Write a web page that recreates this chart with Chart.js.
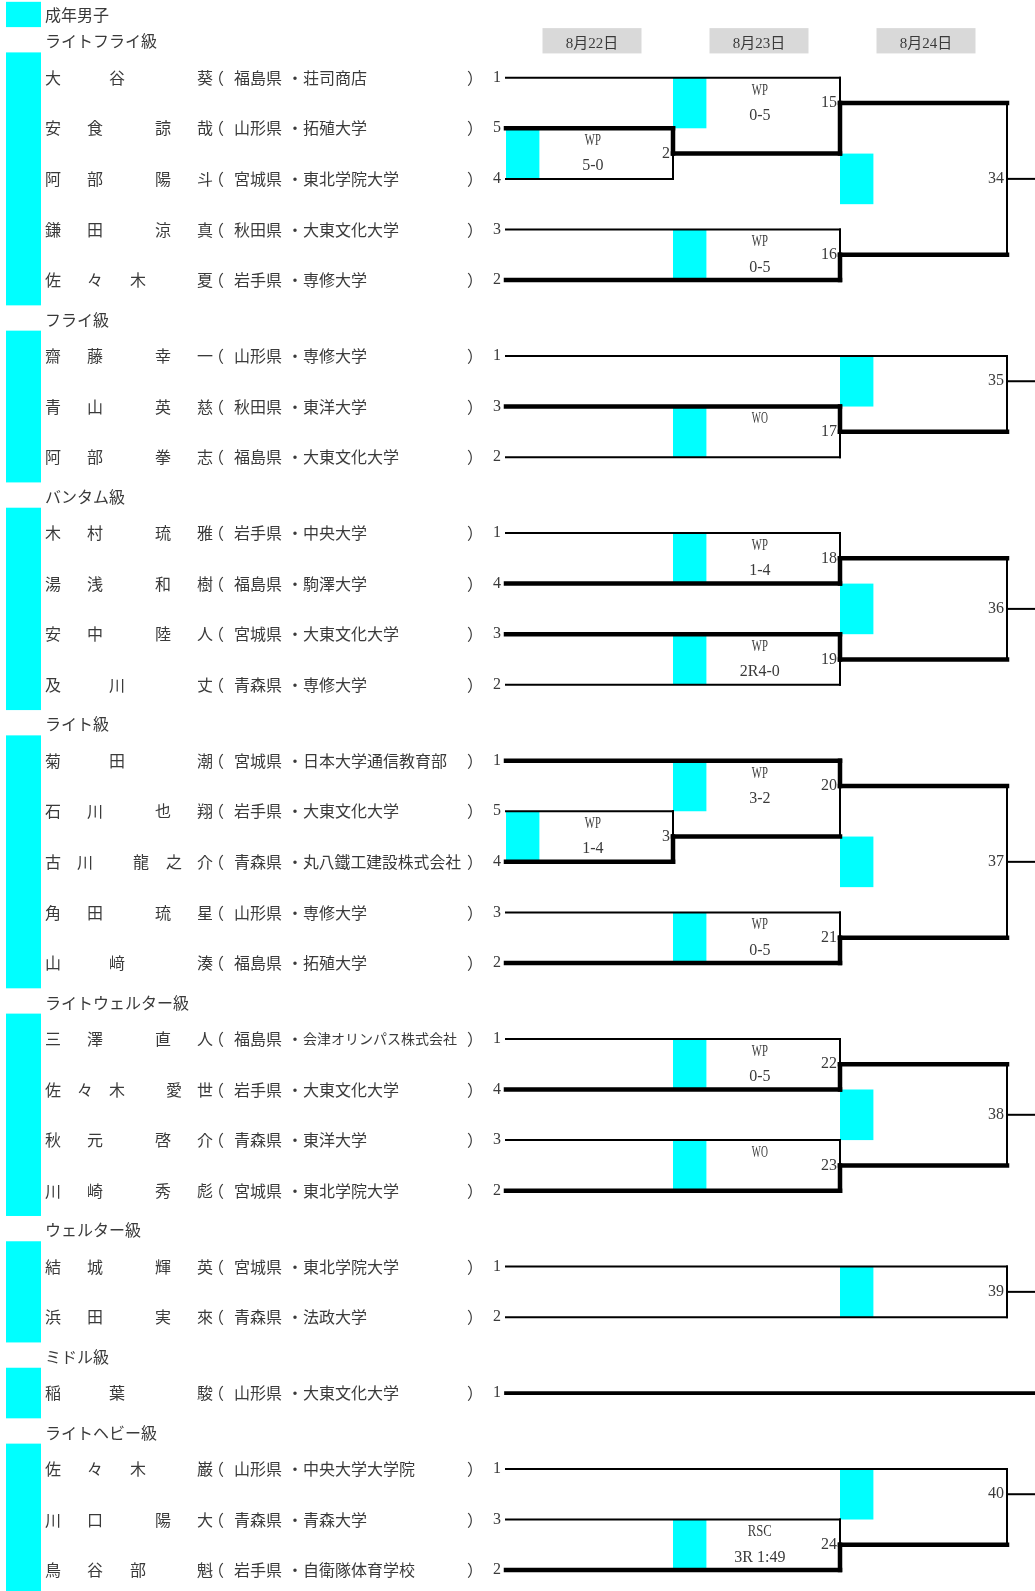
<!DOCTYPE html>
<html lang="ja">
<head>
<meta charset="utf-8">
<title>成年男子 トーナメント</title>
<script src="https://cdn.jsdelivr.net/npm/chart.js@4.4.1/dist/chart.umd.min.js"></script>
<style>
  html, body { margin: 0; padding: 0; background: #fff; }
  #wrap { position: relative; width: 1035px; height: 1591px; }
</style>
</head>
<body>
<div id="wrap"><canvas id="cuadro"></canvas></div>
<script>
// ---- Datos del cuadro ----
const categoria = '成年男子';
const clases = ['ライトフライ級', 'フライ級', 'バンタム級', 'ライト級', 'ライトウェルター級', 'ウェルター級', 'ミドル級', 'ライトヘビー級'];
const tamClases = [5, 3, 4, 5, 4, 2, 1, 3];
const fechas = ['8月22日', '8月23日', '8月24日'];

// Boxeadores en el orden en que aparecen (de arriba abajo)
const apellidos = ['大谷', '安食', '阿部', '鎌田', '佐々木',
    '齋藤', '青山', '阿部',
    '木村', '湯浅', '安中', '及川',
    '菊田', '石川', '古川', '角田', '山﨑',
    '三澤', '佐々木', '秋元', '川崎',
    '結城', '浜田',
    '稲葉',
    '佐々木', '川口', '鳥谷部'];
const nombres = ['葵', '諒哉', '陽斗', '涼真', '夏',
    '幸一', '英慈', '拳志',
    '琉雅', '和樹', '陸人', '丈',
    '潮', '也翔', '龍之介', '琉星', '湊',
    '直人', '愛世', '啓介', '秀彪',
    '輝英', '実來',
    '駿',
    '巌', '陽大', '魁'];
const prefecturas = ['福島県', '山形県', '宮城県', '秋田県', '岩手県',
    '山形県', '秋田県', '福島県',
    '岩手県', '福島県', '宮城県', '青森県',
    '宮城県', '岩手県', '青森県', '山形県', '福島県',
    '福島県', '岩手県', '青森県', '宮城県',
    '宮城県', '青森県',
    '山形県',
    '山形県', '青森県', '岩手県'];
const equipos = ['荘司商店', '拓殖大学', '東北学院大学', '大東文化大学', '専修大学',
    '専修大学', '東洋大学', '大東文化大学',
    '中央大学', '駒澤大学', '大東文化大学', '専修大学',
    '日本大学通信教育部', '大東文化大学', '丸八鐵工建設株式会社', '専修大学', '拓殖大学',
    '会津オリンパス株式会社', '大東文化大学', '東洋大学', '東北学院大学',
    '東北学院大学', '法政大学',
    '大東文化大学',
    '中央大学大学院', '青森大学', '自衛隊体育学校'];
const sorteo = [1, 5, 4, 3, 2, 1, 3, 2, 1, 4, 3, 2, 1, 5, 4, 3, 2, 1, 4, 3, 2, 1, 2, 1, 1, 3, 2];

// Combates: 'jN' = boxeador N, 'cN' = ganador del combate N
const combateId = [2, 15, 16, 34, 17, 35, 18, 19, 36, 3, 20, 21, 37, 22, 23, 38, 39, 24, 40];
const combateRonda = [1, 2, 2, 3, 2, 3, 2, 2, 3, 1, 2, 2, 3, 2, 2, 3, 3, 2, 3];
const combateArriba = ['j1', 'j0', 'j3', 'c15', 'j6', 'j5', 'j8', 'j10', 'c18', 'j13', 'j12', 'j15', 'c20', 'j17', 'j19', 'c22', 'j21', 'j25', 'j24'];
const combateAbajo = ['j2', 'c2', 'j4', 'c16', 'j7', 'c17', 'j9', 'j11', 'c19', 'j14', 'c3', 'j16', 'c21', 'j18', 'j20', 'c23', 'j22', 'j26', 'c24'];
const combateGanador = ['arriba', 'abajo', 'abajo', null, 'arriba', null, 'abajo', 'arriba', null, 'abajo', 'arriba', 'abajo', null, 'abajo', 'abajo', null, null, 'abajo', null];
const resultado1 = ['WP', 'WP', 'WP', '', 'WO', '', 'WP', 'WP', '', 'WP', 'WP', 'WP', '', 'WP', 'WO', '', '', 'RSC', ''];
const resultado2 = ['5-0', '0-5', '0-5', '', '', '', '1-4', '2R4-0', '', '1-4', '3-2', '0-5', '', '0-5', '', '', '', '3R 1:49', ''];

// ---- Maquetación ----
const ANCHO = 1035, ALTO = 1591;
const X0_PX = 506, COL_PX = 167;      // inicio del cuadro y ancho de cada ronda
const Y0_PX = 77.7, FILA_PX = 50.59;  // primera fila y separación entre filas
const X_MIN = -X0_PX / COL_PX, X_MAX = (ANCHO - X0_PX) / COL_PX;
const Y_MIN = -Y0_PX / FILA_PX, Y_MAX = (ALTO - Y0_PX) / FILA_PX;
const CIAN = '#00ffff', GRIS = '#d9d9d9', TINTA = '#3a3a3a';
const FINA = 2, GRUESA = 4.5;
const F_JP = '16px "Noto Sans CJK JP"';
const F_NUM = '16px "Liberation Serif", "Noto Sans CJK JP"';
// posiciones de los caracteres del nombre (alineación distribuida)
const POS_NOMBRE = {
    '2-1': [45, 109, 197],
    '2-2': [45, 87, 155, 197],
    '3-1': [45, 87, 130, 197],
    '2-3': [45, 77, 133, 166, 197],
    '3-2': [45, 77, 109, 166, 197]
};

// Fila de cada boxeador y de cada clase
const filaJugador = [];
const filasClase = [];
let filaActual = 0;
tamClases.forEach(n => {
    filasClase.push([filaActual, filaActual + n - 1]);
    for (let i = 0; i < n; i++) filaJugador.push(filaActual + i);
    filaActual += n + 0.5;
});

const indiceCombate = {};
combateId.forEach((id, i) => { indiceCombate['c' + id] = i; });

// A qué combate va cada boxeador / ganador
const siguiente = {};
combateId.forEach((id, i) => {
    siguiente[combateArriba[i]] = i;
    siguiente[combateAbajo[i]] = i;
});

function filaSalida(i) {
    const mitad = (filaDe(combateArriba[i]) + filaDe(combateAbajo[i])) / 2;
    return Math.floor(mitad * 2) / 2;
}
function filaDe(ref) {
    if (ref[0] === 'j') return filaJugador[+ref.slice(1)];
    return filaSalida(indiceCombate[ref]);
}

// ---- Segmentos del cuadro ----
const segmentos = [];
function tramo(x1, y1, x2, y2, grosor) {
    segmentos.push({ pts: [{ x: x1, y: y1 }, { x: x2, y: y2 }], grosor });
}

filaJugador.forEach((fila, j) => {
    const m = siguiente['j' + j];
    if (m === undefined) {
        tramo(0, fila, X_MAX, fila, GRUESA - 0.8);
        return;
    }
    const lado = combateArriba[m] === 'j' + j ? 'arriba' : 'abajo';
    tramo(0, fila, combateRonda[m], fila, combateGanador[m] === lado ? GRUESA : FINA);
});

combateId.forEach((id, i) => {
    const x = combateRonda[i];
    const t = filaDe(combateArriba[i]);
    const b = filaDe(combateAbajo[i]);
    const s = filaSalida(i);
    tramo(x, t, x, s, combateGanador[i] === 'arriba' ? GRUESA : FINA);
    tramo(x, s, x, b, combateGanador[i] === 'abajo' ? GRUESA : FINA);
    const n = siguiente['c' + id];
    if (n !== undefined) {
        tramo(x, s, combateRonda[n], s, combateGanador[i] ? GRUESA : FINA);
    } else {
        tramo(x, s, X_MAX, s, FINA);
    }
});

const datasets = segmentos.map(sg => ({
    data: sg.pts,
    showLine: true,
    borderColor: '#000',
    borderWidth: sg.grosor,
    borderCapStyle: 'square',
    pointRadius: 0,
    clip: false
}));

// ---- Fondo: celdas cian y cabeceras de fecha ----
const pluginFondo = {
    id: 'fondo',
    beforeDatasetsDraw(chart) {
        const { ctx, scales: { x, y } } = chart;
        const px = v => x.getPixelForValue(v);
        const py = v => y.getPixelForValue(v);
        ctx.save();
        ctx.fillStyle = CIAN;
        // barra de la categoría y de cada clase
        ctx.fillRect(6, py(-1.5), 35, py(-1.0) - py(-1.5));
        filasClase.forEach(([a, b]) => {
            ctx.fillRect(6, py(a - 0.5), 35, py(b + 0.5) - py(a - 0.5));
        });
        // celdas cian de cada combate
        combateId.forEach((id, i) => {
            const r = combateRonda[i];
            let y1, y2;
            if (r < 3) {
                y1 = filaDe(combateArriba[i]);
                y2 = y1 + 1;
            } else {
                const s = filaSalida(i);
                y1 = s - 0.5;
                y2 = s + 0.5;
            }
            ctx.fillRect(px(r - 1), py(y1), px(r - 0.8) - px(r - 1), py(y2) - py(y1));
        });
        // cabeceras de fecha
        ctx.fillStyle = GRIS;
        fechas.forEach((f, k) => {
            const cx = px(k + 0.515);
            ctx.fillRect(cx - 49.5, py(-0.98), 99, py(-0.48) - py(-0.98));
        });
        ctx.restore();
    }
};

// ---- Textos ----
function escribe(ctx, s, x, y, fuente, align, maxW) {
    ctx.font = fuente;
    ctx.textAlign = align || 'left';
    if (maxW) ctx.fillText(s, x, y, maxW);
    else ctx.fillText(s, x, y);
}

const pluginTextos = {
    id: 'textos',
    afterDatasetsDraw(chart) {
        const { ctx, scales: { x, y } } = chart;
        const px = v => x.getPixelForValue(v);
        const py = v => y.getPixelForValue(v);
        ctx.save();
        ctx.fillStyle = TINTA;
        ctx.textBaseline = 'middle';

        escribe(ctx, categoria, 45, py(-1.24), F_JP);
        clases.forEach((c, k) => {
            escribe(ctx, c, 45, py(filasClase[k][0] - 0.72), F_JP);
        });

        fechas.forEach((f, k) => {
            escribe(ctx, f, px(k + 0.515), py(-0.66), '15px "Liberation Serif", "Noto Sans CJK JP"', 'center');
        });

        filaJugador.forEach((fila, j) => {
            const yy = py(fila);
            const letras = [...apellidos[j], ...nombres[j]];
            const pos = POS_NOMBRE[[...apellidos[j]].length + '-' + [...nombres[j]].length];
            letras.forEach((c, k) => escribe(ctx, c, pos[k], yy, F_JP));
            escribe(ctx, '（', 208, yy, F_JP);
            escribe(ctx, prefecturas[j], 234, yy, F_JP);
            escribe(ctx, '・', 287, yy, F_JP);
            const eq = equipos[j];
            escribe(ctx, eq, 303, yy, eq.length > 10 ? '14px "Noto Sans CJK JP"' : F_JP, 'left', 158);
            escribe(ctx, '）', 467, yy, F_JP);
            escribe(ctx, String(sorteo[j]), 501, yy, F_NUM, 'right');
        });

        combateId.forEach((id, i) => {
            const r = combateRonda[i];
            const s = filaSalida(i);
            escribe(ctx, String(id), px(r) - 3, py(s), F_NUM, 'right');
            const t = filaDe(combateArriba[i]);
            const cx = px(r - 0.5 + 0.02);
            if (resultado1[i]) {
                escribe(ctx, resultado1[i], cx, py(t + 0.25), F_NUM, 'center', resultado1[i].length * 8);
            }
            if (resultado2[i]) {
                escribe(ctx, resultado2[i], cx, py(t + 0.75), F_NUM, 'center', resultado2[i].length * 8);
            }
        });
        ctx.restore();
    }
};

new Chart(document.getElementById('cuadro').getContext('2d'), {
    type: 'scatter',
    data: { datasets },
    options: {
        responsive: true,
        maintainAspectRatio: false,
        animation: false,
        events: [],
        layout: { padding: 0 },
        plugins: { legend: { display: false }, tooltip: { enabled: false } },
        scales: {
            x: { type: 'linear', min: X_MIN, max: X_MAX, display: false },
            y: { type: 'linear', min: Y_MIN, max: Y_MAX, reverse: true, display: false }
        }
    },
    plugins: [pluginFondo, pluginTextos]
});
</script>
</body>
</html>
